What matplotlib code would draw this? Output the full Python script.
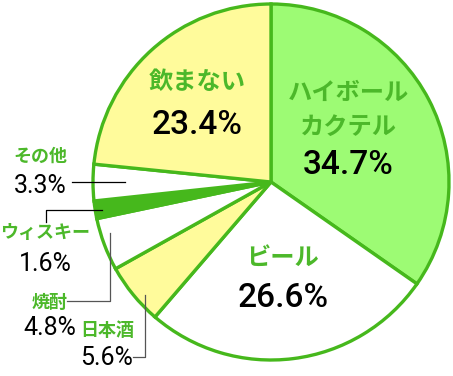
import matplotlib
matplotlib.use("Agg")
import matplotlib.pyplot as plt

plt.rcParams['font.family'] = ['Noto Sans CJK JP', 'DejaVu Sans']

categories = ["ハイボール\nカクテル", "ビール", "日本酒", "焼酎", "ウィスキー", "その他", "飲まない"]
values = [34.7, 26.6, 5.6, 4.8, 1.6, 3.3, 23.4]
colors = ["#9dfb74", "#ffffff", "#fffb9b", "#ffffff", "#46b81c", "#ffffff", "#fffb9b"]

EDGE = "#46b81c"
LABEL_GREEN = "#4cb82a"

W, H = 453, 376
fig = plt.figure(figsize=(W / 100, H / 100), dpi=100)
ax = fig.add_axes([0, 0, 1, 1])

def Y(y):
    return H - y

ax.pie(values, colors=colors, startangle=90, counterclock=False,
       center=(271, Y(182)), radius=178,
       wedgeprops=dict(edgecolor=EDGE, linewidth=2.4), frame=True)
ax.set_xlim(0, W)
ax.set_ylim(0, H)
ax.set_aspect('equal')
ax.axis('off')

def pct(v):
    return f"{v:.1f}%"

NUMFONT = ['Roboto', 'DejaVu Sans']

# big inside labels
big = [
    (0, 348, [93, 127], 165),
    (1, 283, [258], 298),
    (6, 197, [82], 125),
]
for idx, x, ys, yn in big:
    for line, yy in zip(categories[idx].split("\n"), ys):
        ax.text(x, Y(yy), line, ha='center', va='center', color=LABEL_GREEN,
                fontsize=17.5, fontweight='bold')
    ax.text(x, Y(yn), pct(values[idx]), ha='center', va='center', color='black',
            fontsize=24, fontweight='medium', family=NUMFONT)

# small outside labels
small = [
    (5, 40, 156, 186),
    (4, 45, 233, 264),
    (3, 50, 302, 328),
    (2, 107, 331, 358),
]
for idx, x, yl, yn in small:
    ax.text(x, Y(yl), categories[idx], ha='center', va='center', color=LABEL_GREEN,
            fontsize=13, fontweight='bold')
    ax.text(x, Y(yn), pct(values[idx]), ha='center', va='center', color='black',
            fontsize=18, family=NUMFONT)

# leader lines
ax.plot([72, 125], [Y(182), Y(182)], color='black', lw=0.9)
ax.plot([45.5, 45.5, 102], [Y(222), Y(210), Y(210)], color='black', lw=0.9)
ax.plot([67, 110, 110], [Y(301), Y(301), Y(233)], color='#555555', lw=0.9)
ax.plot([133, 145, 145], [Y(357), Y(357), Y(295)], color='#555555', lw=0.9)

fig.savefig("out.png", dpi=100)
